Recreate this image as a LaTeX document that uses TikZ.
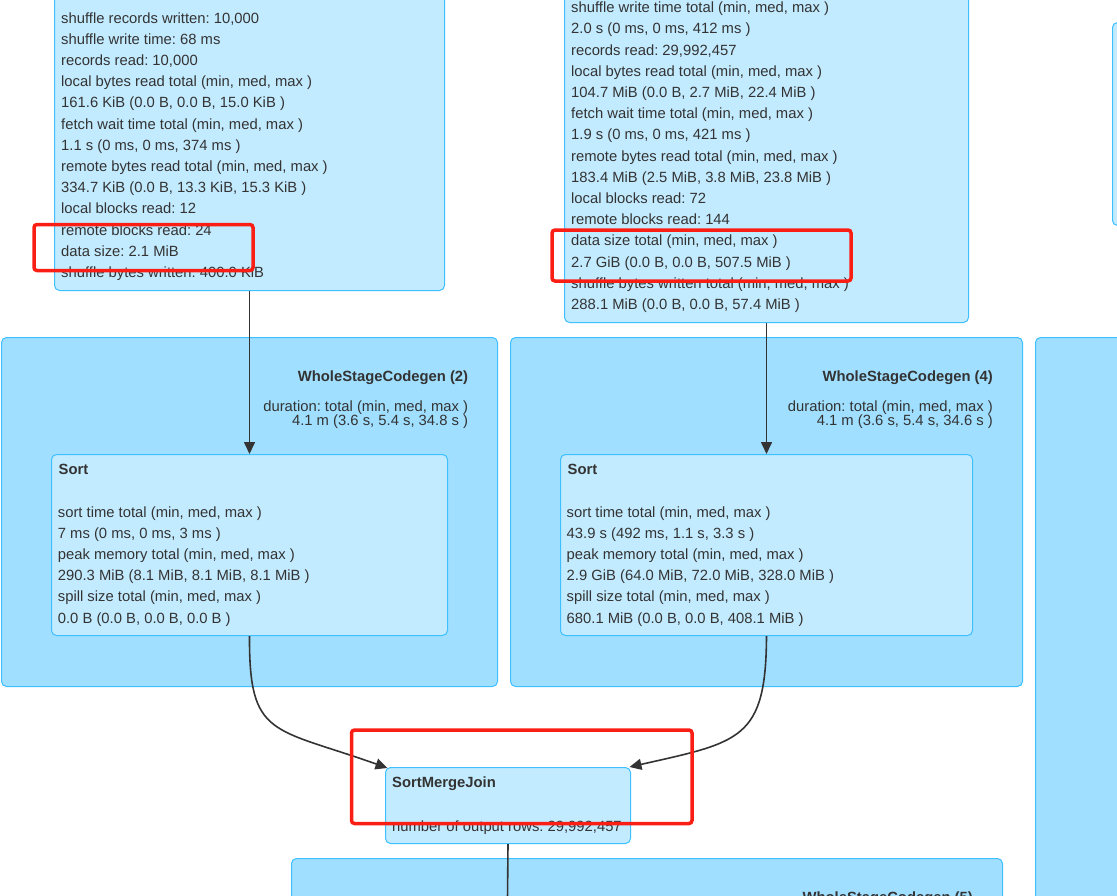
\documentclass[tikz,border=0pt]{standalone}
\usepackage{fontspec}
\setmainfont{Liberation Sans}
\usetikzlibrary{arrows.meta,calc}
\frenchspacing
\definecolor{clusterfill}{HTML}{A0DFFF}
\definecolor{nodefill}{HTML}{C3EBFF}
\definecolor{boxline}{HTML}{3EC0FF}
\definecolor{txtcol}{HTML}{333333}
\definecolor{markred}{RGB}{250,30,20}
\tikzset{
  cluster/.style={draw=boxline, fill=clusterfill, line width=1pt, rounded corners=5pt, inner sep=0pt, anchor=north west},
  opbox/.style={draw=boxline, fill=nodefill, line width=1pt, rounded corners=5pt, inner sep=0pt, anchor=north west},
  txt/.style={text=txtcol, inner sep=0pt, align=left, anchor=base west, font=\fontsize{14.8}{21.2}\selectfont},
  durtxt/.style={text=txtcol, inner sep=0pt, align=right, anchor=base east, font=\fontsize{14.8}{14.7}\selectfont},
  ttl/.style={text=txtcol, inner sep=0pt, font=\fontsize{14.8}{18}\selectfont\bfseries},
  edge/.style={draw=txtcol, line width=1.6pt},
  arr/.style={edge, -{Triangle[length=12pt,width=11pt]}},
  markbox/.style={draw=markred, line width=3.5pt, rounded corners=3pt}
}
\begin{document}
\begin{tikzpicture}[x=1pt,y=-1pt]
\useasboundingbox (0,0) rectangle (1117,895);
\clip (0,0) rectangle (1117,895);
% clusters
\node[cluster, minimum width=496pt, minimum height=349pt] (wsc2) at (1,337) {};
\node[cluster, minimum width=512pt, minimum height=349pt] (wsc4) at (510,337) {};
\node[cluster, minimum width=120pt, minimum height=600pt] (wscR) at (1035,337) {};
\node[cluster, minimum width=711pt, minimum height=120pt] (wsc5) at (291,858) {};
% operator boxes
\node[opbox, minimum width=390pt, minimum height=300pt] (exA) at (54,-10) {};
\node[opbox, minimum width=404pt, minimum height=332pt] (exB) at (564,-10) {};
\node[opbox, minimum width=40pt, minimum height=203pt] (rtop) at (1112,22) {};
\node[opbox, minimum width=396pt, minimum height=181pt] (sort2) at (51,454) {};
\node[opbox, minimum width=412pt, minimum height=181pt] (sort4) at (560,454) {};
\node[opbox, minimum width=245pt, minimum height=76pt] (smj) at (385,767) {};
% texts (anchor = baseline of the last line)
\node[txt] (exAtext) at (61,277.4) {shuffle records written: 10,000\\
shuffle write time: 68 ms\\
records read: 10,000\\
local bytes read total (min, med, max )\\
161.6 KiB (0.0 B, 0.0 B, 15.0 KiB )\\
fetch wait time total (min, med, max )\\
1.1 s (0 ms, 0 ms, 374 ms )\\
remote bytes read total (min, med, max )\\
334.7 KiB (0.0 B, 13.3 KiB, 15.3 KiB )\\
local blocks read: 12\\
remote blocks read: 24\\
data size: 2.1 MiB\\
shuffle bytes written: 400.0 KiB};
\node[txt] (exBtext) at (571,309.5) {shuffle write time total (min, med, max )\\
2.0 s (0 ms, 0 ms, 412 ms )\\
records read: 29,992,457\\
local bytes read total (min, med, max )\\
104.7 MiB (0.0 B, 2.7 MiB, 22.4 MiB )\\
fetch wait time total (min, med, max )\\
1.9 s (0 ms, 0 ms, 421 ms )\\
remote bytes read total (min, med, max )\\
183.4 MiB (2.5 MiB, 3.8 MiB, 23.8 MiB )\\
local blocks read: 72\\
remote blocks read: 144\\
data size total (min, med, max )\\
2.7 GiB (0.0 B, 0.0 B, 507.5 MiB )\\
shuffle bytes written total (min, med, max )\\
288.1 MiB (0.0 B, 0.0 B, 57.4 MiB )};
% cluster titles
\node[ttl, anchor=base east] (wsc2title) at (468.3,381.7) {WholeStageCodegen (2)};
\node[durtxt] (wsc2dur) at (468.3,425.7) {duration: total (min, med, max )\\4.1 m (3.6 s, 5.4 s, 34.8 s )};
\node[ttl, anchor=base east] (wsc4title) at (993,381.7) {WholeStageCodegen (4)};
\node[durtxt] (wsc4dur) at (993,425.7) {duration: total (min, med, max )\\4.1 m (3.6 s, 5.4 s, 34.6 s )};
\node[ttl, anchor=base east] (wsc5title) at (973,902.7) {WholeStageCodegen (5)};
% sort texts
\node[ttl, anchor=base west] (sort2title) at (58.5,474.5) {Sort};
\node[txt] (sort2text) at (57.7,623) {sort time total (min, med, max )\\
7 ms (0 ms, 0 ms, 3 ms )\\
peak memory total (min, med, max )\\
290.3 MiB (8.1 MiB, 8.1 MiB, 8.1 MiB )\\
spill size total (min, med, max )\\
0.0 B (0.0 B, 0.0 B, 0.0 B )};
\node[ttl, anchor=base west] (sort4title) at (567.5,474.5) {Sort};
\node[txt] (sort4text) at (566.5,623) {sort time total (min, med, max )\\
43.9 s (492 ms, 1.1 s, 3.3 s )\\
peak memory total (min, med, max )\\
2.9 GiB (64.0 MiB, 72.0 MiB, 328.0 MiB )\\
spill size total (min, med, max )\\
680.1 MiB (0.0 B, 0.0 B, 408.1 MiB )};
\node[ttl, anchor=base west] (smjtitle) at (392,787) {SortMergeJoin};
\node[txt] (smjtext) at (392,831) {number of output rows: 29,992,457};
% connectors
\coordinate (smjL) at ($(smj.north west)+(2.5,1)$);
\coordinate (smjR) at ($(smj.north east)+(-1.5,0)$);
\coordinate (down) at (507.5,900);
\draw[arr] (exA.south) -- (sort2.north);
\draw[arr] (exB.south) -- (sort4.north);
\draw[arr] (sort2.south) .. controls (249,738) and (272,727) .. (smjL);
\draw[arr] (sort4.south) .. controls (766,740) and (740,742) .. (smjR);
\draw[edge] (smj.south) -- (down);
% red highlight marks
\draw[markbox] (34,224.5) rectangle (253,270.5);
\draw[markbox] (552,230) rectangle (851,281);
\draw[markbox] (351.5,730) rectangle (692,823.5);
\end{tikzpicture}
\end{document}
